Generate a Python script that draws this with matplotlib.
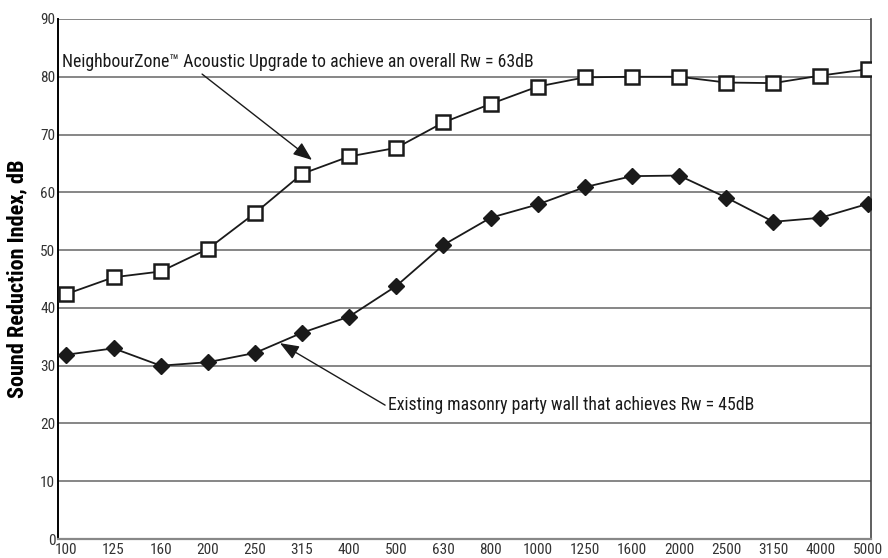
import matplotlib
matplotlib.use("Agg")
import matplotlib.pyplot as plt
from matplotlib import font_manager

# frequency bands (Hz) and sound reduction index (dB)
freqs = ["100", "125", "160", "200", "250", "315", "400", "500", "630",
         "800", "1000", "1250", "1600", "2000", "2500", "3150", "4000", "5000"]
upgrade = [42.4, 45.3, 46.3, 50.2, 56.4, 63.2, 66.2, 67.7, 72.1,
           75.3, 78.3, 79.9, 80.0, 80.0, 79.0, 78.9, 80.2, 81.3]
existing = [31.9, 33.0, 30.0, 30.6, 32.2, 35.7, 38.5, 43.8, 50.9,
            55.6, 57.9, 60.9, 62.8, 62.9, 59.1, 54.9, 55.6, 58.0]
yticks = list(range(0, 100, 10))

names = {f.name for f in font_manager.fontManager.ttflist}
fam = [n for n in ["Liberation Sans Narrow", "Roboto Condensed", "DejaVu Sans Condensed"] if n in names]
plt.rcParams["font.family"] = fam + ["DejaVu Sans"]

fig = plt.figure(figsize=(8.88, 5.58), dpi=100)
ax = fig.add_axes([0.0653, 0.034, 0.916, 0.932])

x = list(range(len(freqs)))
ax.plot(x, existing, color="#1a1a1a", lw=1.3, marker="D", ms=8,
        mfc="#1a1a1a", mec="#1a1a1a", zorder=3)
ax.plot(x, upgrade, color="#1a1a1a", lw=1.3, marker="s", ms=10,
        mfc="white", mec="#1a1a1a", mew=1.8, zorder=4)

ax.set_xlim(-0.18, len(freqs) - 1 + 0.08)
ax.set_ylim(0, 90)
ax.set_xticks(x)
ax.set_xticklabels(freqs)
ax.set_yticks(yticks)
ax.tick_params(length=0, labelsize=11, colors="#333333", pad=3)
ax.tick_params(axis="y", pad=2)
ax.grid(axis="y", color="#666666", lw=1.1)
ax.set_axisbelow(True)
ax.spines["top"].set_visible(False)
ax.spines["bottom"].set_color("#888888")
ax.spines["bottom"].set_linewidth(1.6)
ax.spines["left"].set_linewidth(1.4)
ax.spines["right"].set_linewidth(1.2)
ax.spines["right"].set_color("#444444")

ax.set_ylabel("Sound Reduction Index, dB", fontsize=16, fontweight="bold")
ax.yaxis.set_label_coords(-0.037, 0.5)

arrow = dict(arrowstyle="-|>,head_length=0.9,head_width=0.35",
             color="#1a1a1a", lw=1.0, shrinkA=0, shrinkB=0)
ax.annotate("NeighbourZone\u2122 Acoustic Upgrade to achieve an overall Rw = 63dB",
            xy=(5.21, 65.6), xytext=(-0.1, 82.5), fontsize=12.8, va="center",
            ha="left", color="#1a1a1a",
            arrowprops=dict(arrow, relpos=(0.29, 0.0)))
ax.annotate("Existing masonry party wall that achieves Rw = 45dB",
            xy=(4.53, 33.9), xytext=(6.82, 23.2), fontsize=12.8, va="center",
            ha="left", color="#1a1a1a",
            arrowprops=dict(arrow, relpos=(0.0, 0.4)))

fig.savefig("out.png", dpi=100)
